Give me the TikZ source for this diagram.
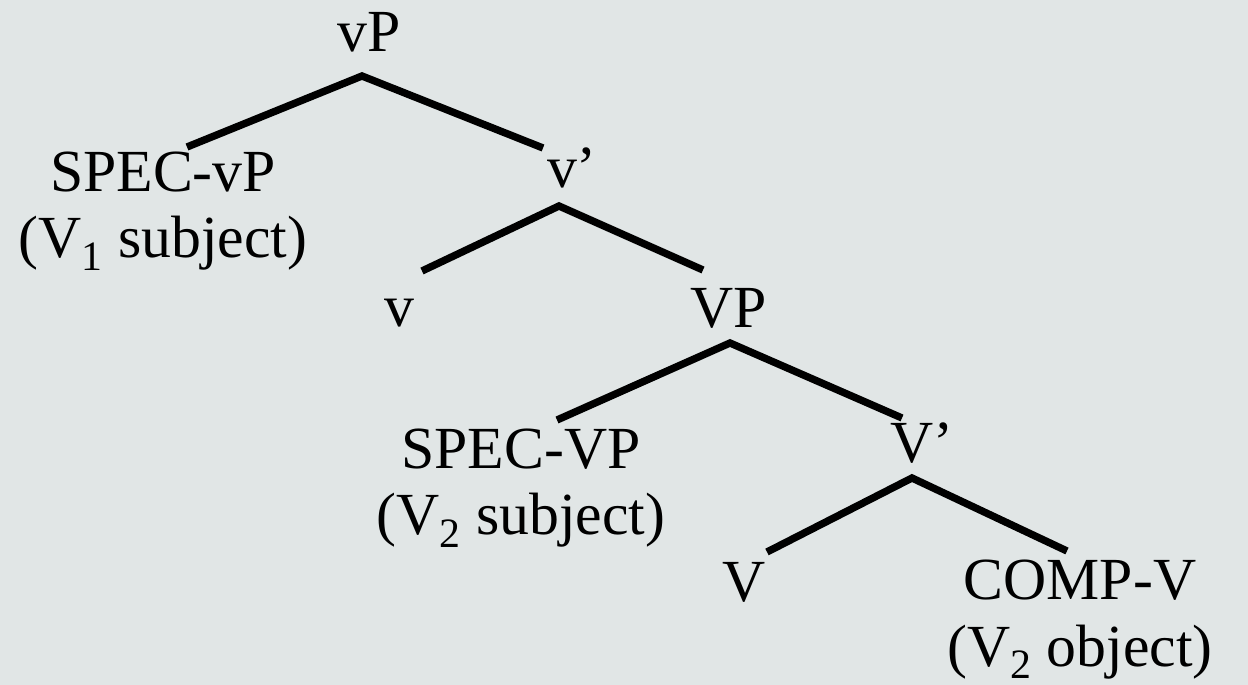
\documentclass[tikz,border=0pt]{standalone}
\usepackage{fontspec}
\setmainfont{Liberation Serif}
\usepackage{xcolor}
\usetikzlibrary{calc}
\definecolor{paper}{RGB}{225,230,230}

\begin{document}
\begin{tikzpicture}[
    x=0.02cm, y=-0.02cm,
    font=\fontsize{34}{38}\selectfont,
    label/.style={anchor=base, align=center, inner sep=0pt},
    branch/.style={line width=4.2pt}
  ]

  \fill[paper] (0,0) rectangle (1248,685);
  \useasboundingbox (0,0) rectangle (1248,685);

  % nodes of the tree (base = last line)
  \node[label] (vP) at (369,52) {vP};
  \node[label] (specvP) at (163,258) {SPEC-vP\\(V\textsubscript{1} subject)};
  \node[label] (vbar) at (572,188) {v’};
  \node[label] (v) at (399,327) {v};
  \node[label] (VP) at (729,328) {VP};
  \node[label] (specVP) at (521,535) {SPEC-VP\\(V\textsubscript{2} subject)};
  \node[label] (Vbar) at (922,463) {V’};
  \node[label] (V) at (744,602) {V};
  \node[label] (compV) at (1080,666) {COMP-V\\(V\textsubscript{2} object)};

  % branches
  \draw[branch] ($(specvP.base)+(24,-111)$) -- ($(vP.base)+(-7,24)$) -- ($(vbar.base)+(-29,-40)$);
  \draw[branch] ($(v.base)+(23,-56)$) -- ($(vbar.base)+(-13,18)$) -- ($(VP.base)+(-26,-58)$);
  \draw[branch] ($(specVP.base)+(36,-115)$) -- ($(VP.base)+(1,15)$) -- ($(Vbar.base)+(-20,-45)$);
  \draw[branch] ($(V.base)+(23,-50)$) -- ($(Vbar.base)+(-10,15)$) -- ($(compV.base)+(-13,-115)$);

\end{tikzpicture}
\end{document}
